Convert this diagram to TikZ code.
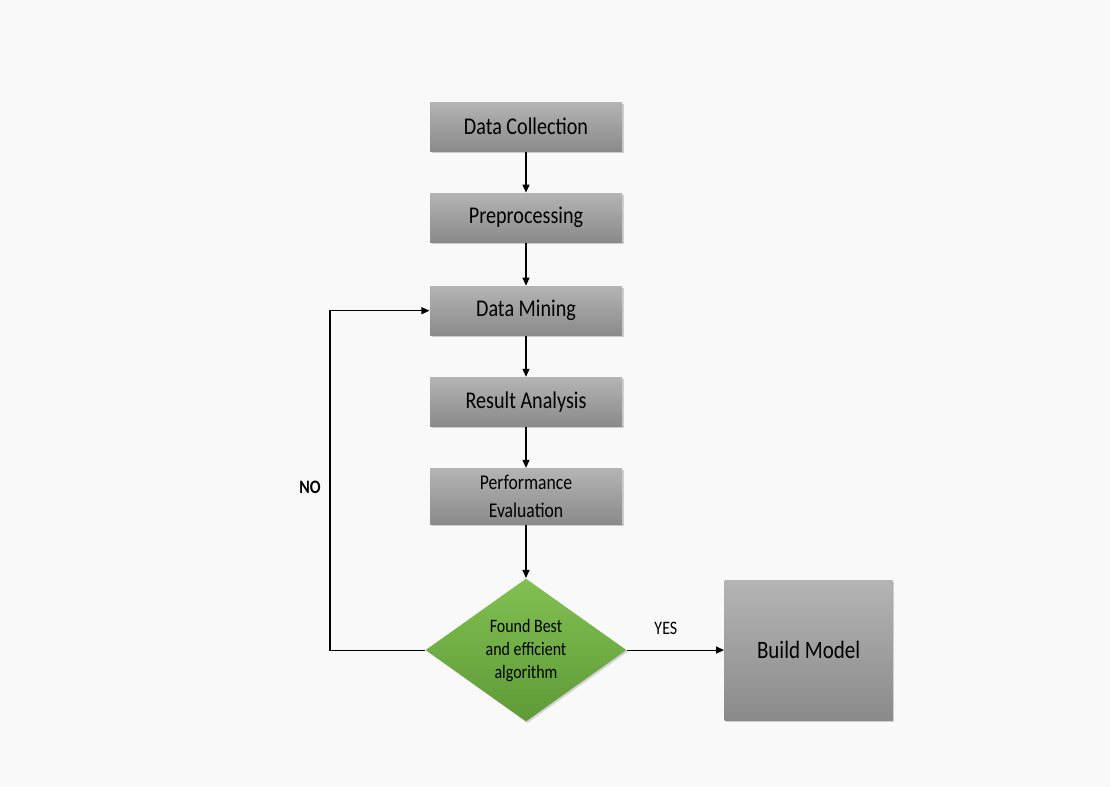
\documentclass[tikz,border=0pt]{standalone}
\usepackage{fontspec}
\setmainfont{Carlito}[FakeStretch=0.84]
\usetikzlibrary{positioning,arrows.meta,shapes.geometric,shadows}
\definecolor{boxtop}{HTML}{B4B4B4}
\definecolor{boxbot}{HTML}{8A8A8A}
\definecolor{gtop}{HTML}{82C053}
\definecolor{gbot}{HTML}{5E9A36}
\definecolor{bgcol}{HTML}{F9F9F9}

\begin{document}
\begin{tikzpicture}[
    x=0.5pt, y=-0.5pt,
    node distance=20.5pt,
    box/.style = {top color=boxtop, bottom color=boxbot, minimum width=96pt, minimum height=24.5pt, align=center, font=\fontsize{12}{14}\selectfont,
                  drop shadow={shadow xshift=0.8pt, shadow yshift=-0.8pt, opacity=0.35}},
    decide/.style = {diamond, top color=gtop, bottom color=gbot, minimum width=100.5pt, minimum height=70pt, inner sep=0pt, align=center,
                  font=\fontsize{9.5}{11.5}\selectfont, drop shadow={shadow xshift=0.8pt, shadow yshift=-0.8pt, opacity=0.3}},
    lbl/.style = {font=\fontsize{9.5}{11}\selectfont},
    > = {Triangle[length=4pt, width=3.5pt]},
    every path/.style = {line width=0.55pt}
]
\fill[bgcol] (0,0) rectangle (1110,787);
\useasboundingbox (0,0) rectangle (1110,787);

\node (col) [box] at (526,126.5) {Data Collection};
\node (pre) [box, below=of col] {Preprocessing};
\node (min) [box, below=21.5pt of pre] {Data Mining};
\node (res) [box, below=of min] {Result Analysis};
\node (eva) [box, below=20.5pt of res, minimum height=28pt, font=\fontsize{10.5}{14}\selectfont] {Performance\\Evaluation};
\node (alg) [decide, below=26.5pt of eva] {Found Best\\and efficient\\algorithm};
\node (bld) [box, right=48.5pt of alg, minimum width=84pt, minimum height=70pt, font=\fontsize{12.5}{15}\selectfont] {Build Model};

\draw[->] (col) to (pre);
\draw[->] (pre) to (min);
\draw[->] (min) to (res);
\draw[->] (res) to (eva);
\draw[->] (eva) to (alg);
\draw[->] (alg) to node[lbl, pos=0.4, above=4pt] {YES} (bld);
\draw[->] (alg.west) -- ++(-47.5pt,0) |- node[lbl, font=\fontsize{9.5}{11}\selectfont\bfseries, pos=0.24, left=1pt] {NO} (min.west);
\end{tikzpicture}
\end{document}
